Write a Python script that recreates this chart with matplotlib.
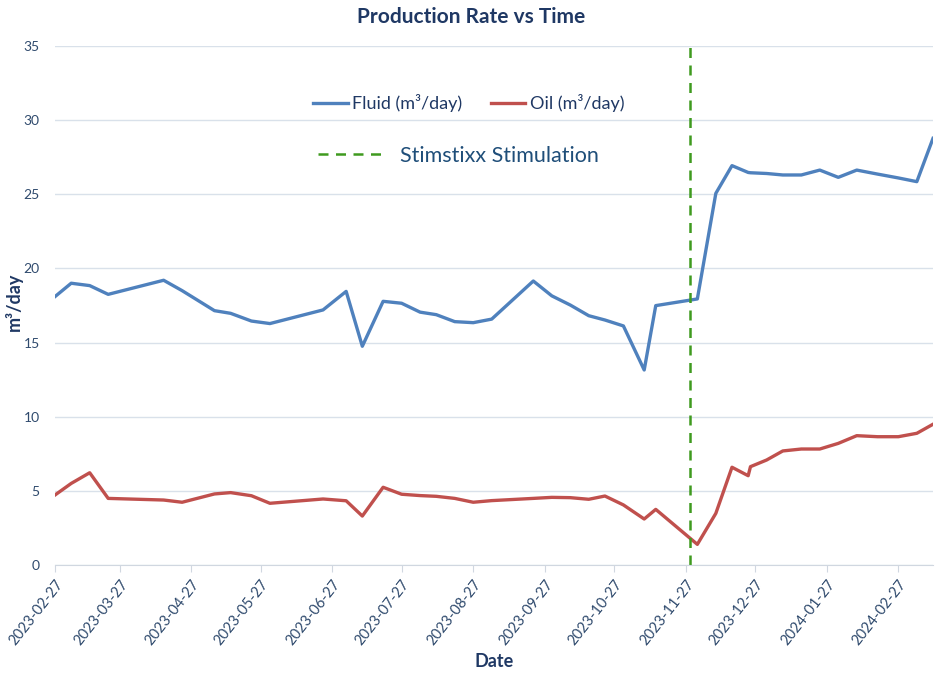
import matplotlib
matplotlib.use('Agg')
import matplotlib.pyplot as plt
import matplotlib.dates as mdates
from matplotlib.lines import Line2D
import pandas as pd

plt.rcParams['font.family'] = ['Lato', 'DejaVu Sans']

dates = ['2023-02-27', '2023-03-06', '2023-03-14', '2023-03-22', '2023-04-15',
         '2023-04-23', '2023-05-07', '2023-05-14', '2023-05-23', '2023-05-31',
         '2023-06-23', '2023-07-03', '2023-07-10', '2023-07-19', '2023-07-27',
         '2023-08-04', '2023-08-11', '2023-08-19', '2023-08-27', '2023-09-04',
         '2023-09-22', '2023-09-30', '2023-10-08', '2023-10-16', '2023-10-23',
         '2023-10-31', '2023-11-09', '2023-11-14', '2023-12-02', '2023-12-10',
         '2023-12-17', '2023-12-24', '2023-12-25', '2024-01-01', '2024-01-08',
         '2024-01-16', '2024-01-24', '2024-02-01', '2024-02-09', '2024-02-18',
         '2024-02-27', '2024-03-06', '2024-03-13']
fluid = [18.1, 19.0, 18.84, 18.25, 19.2, 18.5, 17.15, 16.97, 16.45, 16.28,
         17.2, 18.45, 14.75, 17.78, 17.65, 17.05, 16.88, 16.41, 16.34, 16.58,
         19.15, 18.15, 17.53, 16.81, 16.52, 16.12, 13.15, 17.49, 17.94, 25.06,
         26.93, 26.47, 26.45, 26.4, 26.3, 26.3, 26.63, 26.14, 26.63, 26.36,
         26.1, 25.85, 28.77]
oil = [4.72, 5.5, 6.22, 4.49, 4.38, 4.23, 4.79, 4.88, 4.67, 4.16,
       4.45, 4.33, 3.3, 5.24, 4.77, 4.68, 4.63, 4.49, 4.23, 4.34,
       4.49, 4.56, 4.54, 4.43, 4.65, 4.05, 3.1, 3.75, 1.39, 3.48,
       6.59, 6.02, 6.63, 7.08, 7.69, 7.82, 7.82, 8.2, 8.72, 8.65,
       8.65, 8.88, 9.49]
stim_date = '2023-11-29'

x = pd.to_datetime(dates)
navy = '#1F3864'
txt = '#2F4A6D'

fig = plt.figure(figsize=(9.36, 6.78), dpi=100)
ax = fig.add_axes([0.0588, 0.1667, 0.938, 0.7655])

l1, = ax.plot(x, fluid, color='#4F81BD', lw=2.4, label='Fluid (m³/day)')
l2, = ax.plot(x, oil, color='#C0504D', lw=2.4, label='Oil (m³/day)')
ax.axvline(pd.Timestamp(stim_date), color='#3F9A1F', lw=1.8, ls=(0, (4, 3)))

ax.set_ylim(0, 35)
ax.set_yticks(range(0, 36, 5))
ax.set_xlim(x[0], x[-1])
ax.xaxis.set_major_locator(mdates.MonthLocator(bymonthday=27))
ax.xaxis.set_major_formatter(mdates.DateFormatter('%Y-%m-%d'))
for lab in ax.get_xticklabels():
    lab.set_rotation(52)
    lab.set_ha('right')
    lab.set_rotation_mode('anchor')

ax.grid(axis='y', color='#D9E1EA', lw=1)
ax.set_axisbelow(True)
for s in ['left', 'right', 'top']:
    ax.spines[s].set_visible(False)
ax.spines['bottom'].set_color('#D0D7E0')
ax.tick_params(axis='y', length=0, labelsize=10, colors=txt, pad=11)
ax.tick_params(axis='x', length=5, color='#D0D7E0', labelsize=10.5, labelcolor=txt)

fig.text(0.528, 0.024, 'Date', ha='center', va='center',
         fontsize=13, fontweight='bold', color=navy)
fig.text(0.015, 0.555, 'm³/day', ha='center', va='center', rotation=90,
         fontsize=13, fontweight='bold', color=navy)
fig.text(0.503, 0.975, 'Production Rate vs Time', ha='center', va='center',
         fontsize=15, fontweight='bold', color=navy)

leg1 = ax.legend(handles=[l1, l2], loc='center', ncol=2, frameon=False,
                 bbox_to_anchor=(0.501, 0.848), bbox_transform=fig.transFigure,
                 fontsize=13, handlelength=1.9, handletextpad=0.25, columnspacing=1.6,
                 labelcolor='#1F3864')
ax.add_artist(leg1)
stim = Line2D([], [], color='#3F9A1F', lw=1.8, ls=(0, (4, 3)))
ax.legend(handles=[stim], labels=['Stimstixx Stimulation'], loc='center', frameon=False,
          bbox_to_anchor=(0.49, 0.77), bbox_transform=fig.transFigure,
          fontsize=15.5, handlelength=3.2, handletextpad=0.6, labelcolor='#1F4E79')

fig.savefig('out.png', dpi=100)
